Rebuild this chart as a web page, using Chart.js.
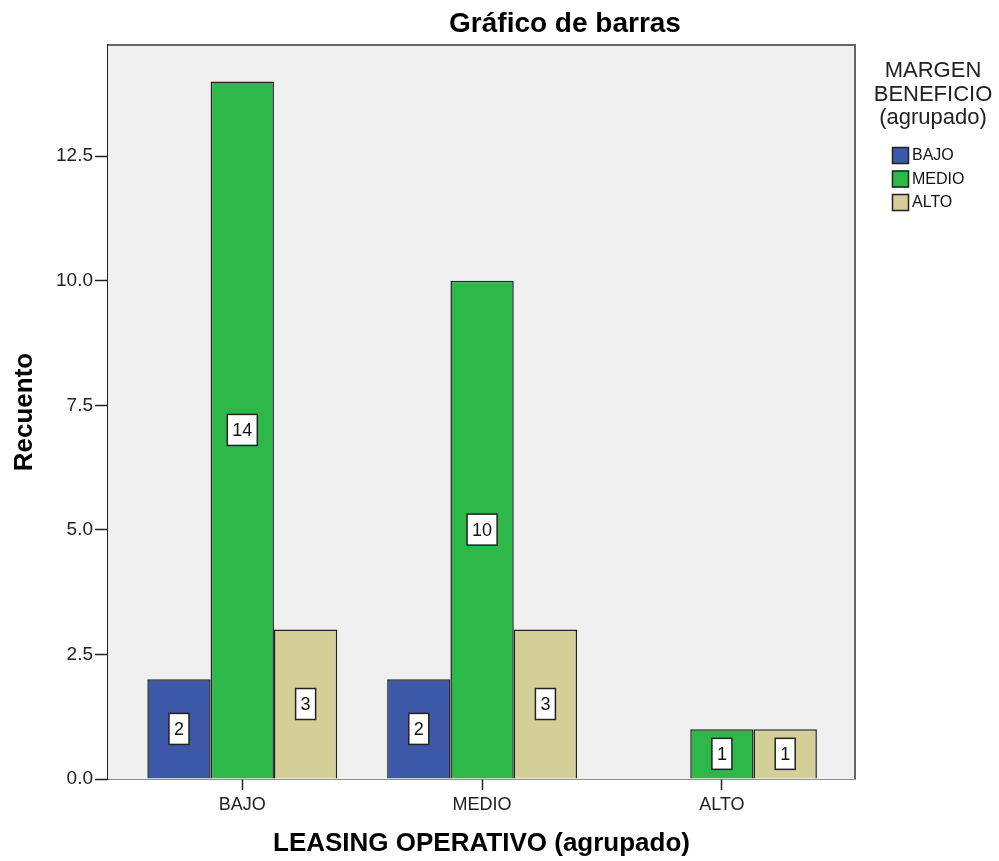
<!DOCTYPE html>
<html lang="es">
<head>
    <meta charset="UTF-8">
    <title>Gráfico de barras</title>
    <script src="https://cdn.jsdelivr.net/npm/chart.js"></script>
    <style>
        body {
            margin: 0;
            background-color: #fff;
        }
        #wrap {
            width: 999px;
            height: 861px;
        }
    </style>
</head>
<body>
    <div id="wrap"><canvas id="barChart" width="999" height="861"></canvas></div>
    <script>
        // data
        const categories = ['BAJO', 'MEDIO', 'ALTO'];
        const bajoCounts = [2, 2, null];
        const medioCounts = [14, 10, 1];
        const altoCounts = [3, 3, 1];
        const seriesNames = ['BAJO', 'MEDIO', 'ALTO'];
        const yTicks = [0, 2.5, 5, 7.5, 10, 12.5];

        const chartTitle = 'Gráfico de barras';
        const legendTitle = ['MARGEN', 'BENEFICIO', '(agrupado)'];
        const FONT = '"Liberation Sans", Arial, sans-serif';

        // plot background, frame, chart title and legend
        const frame = {
            id: 'frame',
            beforeDatasetsDraw(chart) {
                const { ctx, chartArea: a } = chart;
                ctx.save();
                ctx.fillStyle = '#f0f0f0';
                ctx.fillRect(a.left, a.top, a.right - a.left, a.bottom - a.top);
                ctx.restore();
            },
            afterDraw(chart) {
                const { ctx, chartArea: a } = chart;
                ctx.save();
                ctx.strokeStyle = '#666';
                ctx.lineWidth = 2;
                ctx.beginPath();
                ctx.moveTo(a.left, a.top);
                ctx.lineTo(a.right, a.top);
                ctx.lineTo(a.right, a.bottom);
                ctx.stroke();

                ctx.fillStyle = '#000';
                ctx.textAlign = 'center';
                ctx.textBaseline = 'middle';
                ctx.font = 'bold 28px ' + FONT;
                ctx.fillText(chartTitle, 565, 24);

                ctx.font = '22px ' + FONT;
                ctx.fillStyle = '#222';
                legendTitle.forEach((t, i) => ctx.fillText(t, 933, 71 + i * 23.5));

                ctx.textAlign = 'left';
                ctx.font = '16px ' + FONT;
                chart.data.datasets.forEach((ds, i) => {
                    const y = 155 + i * 23.5;
                    ctx.fillStyle = ds.backgroundColor;
                    ctx.fillRect(892, y - 8, 17, 17);
                    ctx.strokeStyle = '#222';
                    ctx.lineWidth = 1.5;
                    ctx.strokeRect(892.5, y - 7.5, 16, 16);
                    ctx.fillStyle = '#111';
                    ctx.fillText(ds.label, 912, y + 1);
                });
                ctx.restore();
            }
        };

        // value boxes in the middle of each bar
        const valueBoxes = {
            id: 'valueBoxes',
            afterDatasetsDraw(chart) {
                const { ctx } = chart;
                ctx.save();
                ctx.font = '18px ' + FONT;
                ctx.textAlign = 'center';
                ctx.textBaseline = 'middle';
                chart.data.datasets.forEach((ds, i) => {
                    chart.getDatasetMeta(i).data.forEach((bar, j) => {
                        const v = ds.data[j];
                        if (v === null || v === undefined) return;
                        const txt = String(v);
                        const cy = (bar.y + bar.base) / 2;
                        const w = ctx.measureText(txt).width + 10;
                        const h = 31;
                        ctx.fillStyle = '#fff';
                        ctx.fillRect(bar.x - w / 2, cy - h / 2, w, h);
                        ctx.strokeStyle = '#222';
                        ctx.lineWidth = 1.5;
                        ctx.strokeRect(bar.x - w / 2, cy - h / 2, w, h);
                        ctx.fillStyle = '#111';
                        ctx.fillText(txt, bar.x, cy + 1);
                    });
                });
                ctx.restore();
            }
        };

        const ctx = document.getElementById('barChart').getContext('2d');
        const barChart = new Chart(ctx, {
            type: 'bar',
            data: {
                labels: categories,
                datasets: [
                    { label: seriesNames[0], data: bajoCounts, backgroundColor: '#3d57a9' },
                    { label: seriesNames[1], data: medioCounts, backgroundColor: '#2fb84a' },
                    { label: seriesNames[2], data: altoCounts, backgroundColor: '#d4ce98' }
                ]
            },
            options: {
                responsive: false,
                animation: false,
                layout: {
                    padding: { top: 45, right: 144, left: 0, bottom: 0 }
                },
                datasets: {
                    bar: {
                        borderColor: '#222',
                        borderWidth: 1.5,
                        categoryPercentage: 0.792,
                        barPercentage: 1
                    }
                },
                plugins: {
                    legend: { display: false },
                    title: { display: false },
                    tooltip: { enabled: false }
                },
                scales: {
                    x: {
                        afterFit: s => { s.height = 82; },
                        afterBuildTicks: s => {
                            // SPSS leaves a little extra room at both ends
                            s._startValue = -0.56;
                            s._valueRange = 3.115;
                        },
                        grid: {
                            offset: false,
                            drawOnChartArea: false,
                            drawTicks: true,
                            tickLength: 11,
                            tickColor: '#222',
                            tickWidth: 1.5
                        },
                        border: { color: '#222', width: 1.5 },
                        ticks: {
                            color: '#222',
                            padding: 4,
                            font: { family: FONT, size: 18 }
                        },
                        title: {
                            display: true,
                            text: 'LEASING OPERATIVO (agrupado)',
                            color: '#000',
                            padding: { top: 0, bottom: 2 },
                            font: { family: FONT, size: 26, weight: 'bold' }
                        }
                    },
                    y: {
                        min: 0,
                        max: 14.73,
                        afterFit: s => { s.width = 108; },
                        afterBuildTicks: s => {
                            s.ticks = yTicks.map(v => ({ value: v }));
                        },
                        grid: {
                            drawOnChartArea: false,
                            drawTicks: true,
                            tickLength: 13,
                            tickColor: '#222',
                            tickWidth: 1.5
                        },
                        border: { color: '#222', width: 1.5 },
                        ticks: {
                            color: '#222',
                            padding: 2,
                            font: { family: FONT, size: 19 },
                            callback: v => v.toFixed(1)
                        },
                        title: {
                            display: true,
                            text: 'Recuento',
                            color: '#000',
                            padding: { top: 9, bottom: 0 },
                            font: { family: FONT, size: 26, weight: 'bold' }
                        }
                    }
                }
            },
            plugins: [frame, valueBoxes]
        });
    </script>
</body>
</html>
